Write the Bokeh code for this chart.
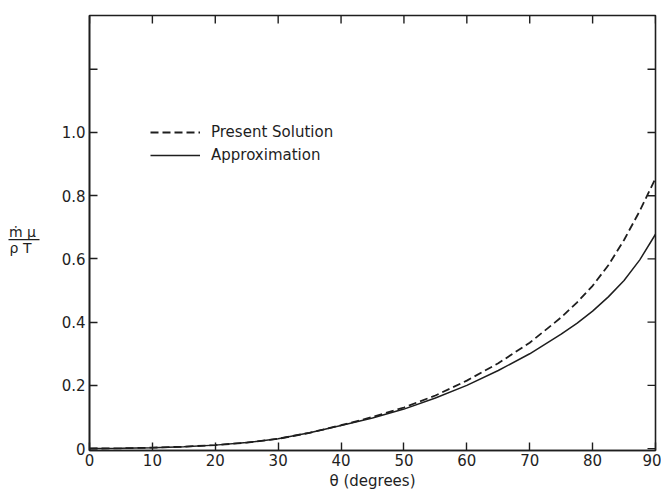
from bokeh.plotting import figure
from bokeh.models import Range1d, FixedTicker, Legend, LegendItem
from bokeh.layouts import row
from bokeh.core.properties import value
from bokeh.embed import file_html
from bokeh.resources import INLINE
import math

# ---- data ----
theta = [0, 5, 10, 15, 20, 25, 30, 35, 40, 45, 50, 55, 60, 65, 70, 75, 77.5, 80, 82.5, 85, 87.5, 90]
approximation = [0.0, 0.001, 0.003, 0.006, 0.011, 0.019, 0.031, 0.050, 0.073, 0.097,
                 0.125, 0.160, 0.200, 0.247, 0.300, 0.362, 0.396, 0.435, 0.480, 0.532, 0.597, 0.678]
present_solution = [0.0, 0.001, 0.003, 0.006, 0.011, 0.019, 0.031, 0.050, 0.074, 0.100,
                    0.130, 0.168, 0.215, 0.270, 0.335, 0.415, 0.462, 0.515, 0.580, 0.660, 0.752, 0.855]
x_ticks = [0, 10, 20, 30, 40, 50, 60, 70, 80, 90]
y_ticks = [0, 0.2, 0.4, 0.6, 0.8, 1.0]
y_tick_labels = ["0", "0.2", "0.4", "0.6", "0.8", "1.0"]
y_extra_ticks = [1.2]
series_names = ["Present Solution", "Approximation"]
x_label = "θ (degrees)"
y_label_num = "ṁ μ"
y_label_den = "ρ T"

INK = "#1e1e1e"
FONT = "DejaVu Sans"
X0, X1 = 0, 90
Y0, Y1 = -0.006, 1.37
H = 493   # common height of both panels
LW = 48   # width of the panel holding the y-axis fraction label

# ---- main plot ----
p = figure(width=613, height=H, output_backend="svg", toolbar_location=None,
           x_range=Range1d(X0, X1), y_range=Range1d(Y0, Y1),
           min_border_left=41, min_border_right=6, min_border_top=15, min_border_bottom=43)
p.background_fill_color = "white"
p.border_fill_color = "white"
p.grid.visible = False
p.outline_line_color = INK
p.outline_line_width = 1.6

def style_axis(ax):
    ax.axis_line_color = INK
    ax.axis_line_width = 1.6
    ax.major_tick_line_color = INK
    ax.major_tick_line_width = 1.4
    ax.major_tick_in = 8
    ax.major_tick_out = 0
    ax.minor_tick_line_color = None
    ax.major_label_text_font = FONT
    ax.major_label_text_color = INK
    ax.major_label_text_font_size = "15px"

xb = p.xaxis[0]
xb.ticker = FixedTicker(ticks=x_ticks)
style_axis(xb)
xb.major_label_standoff = 3
xb.axis_label = x_label
xb.axis_label_text_font = FONT
xb.axis_label_text_font_style = "normal"
xb.axis_label_text_font_size = "15px"
xb.axis_label_text_color = INK
xb.axis_label_standoff = 3

yl = p.yaxis[0]
yl.ticker = FixedTicker(ticks=y_ticks)
yl.major_label_overrides = {t: s for t, s in zip(y_ticks, y_tick_labels)}
style_axis(yl)
yl.major_label_standoff = 4

# inward ticks on the top and right frame edges (half of each dash is clipped by the frame)
p.scatter(x_ticks, [Y1] * len(x_ticks), marker="dash", size=16, angle=math.pi / 2,
          line_color=INK, line_width=1.4)
p.scatter([X1] * (len(y_ticks) + len(y_extra_ticks)), y_ticks + y_extra_ticks,
          marker="dash", size=16, line_color=INK, line_width=1.4)
p.scatter([X0] * len(y_extra_ticks), y_extra_ticks,
          marker="dash", size=16, line_color=INK, line_width=1.4)

r_dash = p.line(theta, present_solution, line_color=INK, line_width=1.8, line_dash="8 4")
r_solid = p.line(theta, approximation, line_color=INK, line_width=1.5)

legend = Legend(items=[LegendItem(label=series_names[0], renderers=[r_dash]),
                       LegendItem(label=series_names[1], renderers=[r_solid])],
                location=(61, 285), glyph_width=50, glyph_height=20, label_height=20,
                spacing=3, padding=0, margin=0, label_standoff=11,
                border_line_color=None, background_fill_alpha=0,
                label_text_font=FONT, label_text_font_size="15px", label_text_color=INK)
p.add_layout(legend, "center")

# ---- narrow panel with the y-axis label written as a fraction (y measured from its top) ----
q = figure(width=LW, height=H, output_backend="svg", toolbar_location=None,
           x_range=Range1d(0, LW), y_range=Range1d(H, 0),
           min_border=0, x_axis_type=None, y_axis_type=None)
q.outline_line_color = None
q.grid.visible = False
q.background_fill_color = "white"
q.border_fill_color = "white"
q.text(x=[22, 20], y=[245, 264], text=[y_label_num, y_label_den],
       text_align="center", text_baseline="middle", text_font=value(FONT),
       text_font_size="14px", text_color=INK)
q.segment(x0=[8], y0=[254], x1=[39], y1=[254], line_color=INK, line_width=1.4)

layout = row(q, p, spacing=0)
open("out.html", "w").write(file_html(layout, INLINE))
